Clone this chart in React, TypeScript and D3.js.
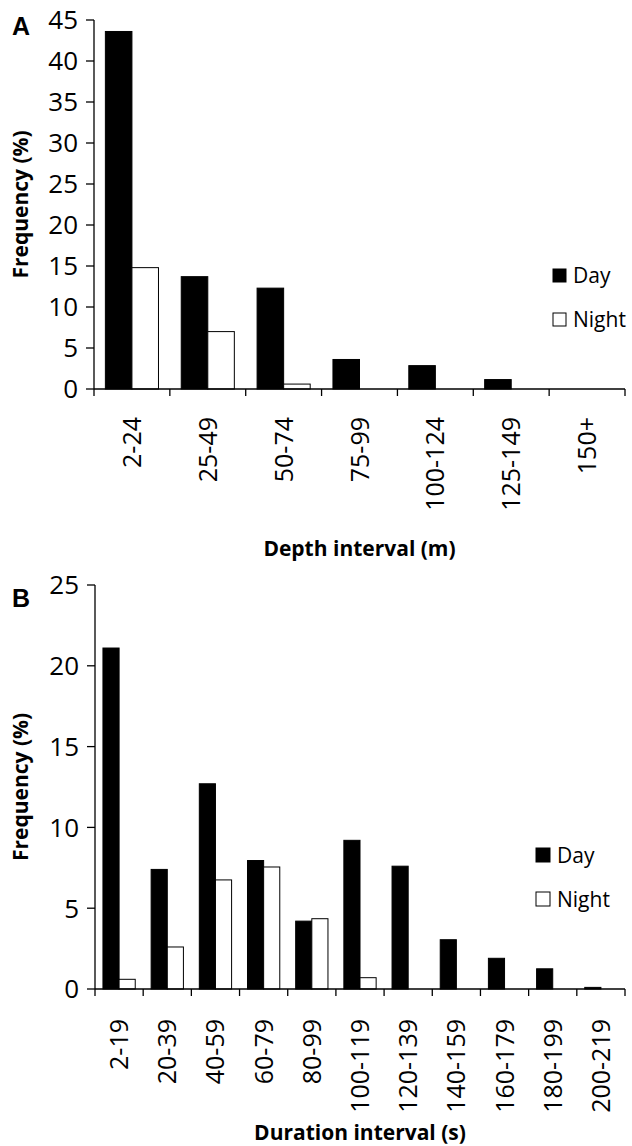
import React from "react";
import * as d3 from "d3";

const depthCats = ["2-24", "25-49", "50-74", "75-99", "100-124", "125-149", "150+"];
const depthDay = [43.6, 13.7, 12.3, 3.6, 2.85, 1.15, 0];
const depthNight = [14.8, 7.0, 0.6, 0, 0, 0, 0];
const depthTicks = [0, 5, 10, 15, 20, 25, 30, 35, 40, 45];

const durationCats = ["2-19", "20-39", "40-59", "60-79", "80-99", "100-119", "120-139", "140-159", "160-179", "180-199", "200-219"];
const durationDay = [21.1, 7.4, 12.7, 7.95, 4.2, 9.2, 7.6, 3.05, 1.9, 1.25, 0.1];
const durationNight = [0.6, 2.6, 6.75, 7.55, 4.35, 0.7, 0, 0, 0, 0, 0];
const durationTicks = [0, 5, 10, 15, 20, 25];

const seriesNames = ["Day", "Night"];

const FONT = "'Open Sans', Lato, sans-serif";

type PanelProps = {
  label: string;
  cats: string[];
  day: number[];
  night: number[];
  ticks: number[];
  yMax: number;
  x0: number;
  x1: number;
  yTop: number;
  yBottom: number;
  xTitle: string;
  xTitleY: number;
  labelY: number;
  legendX: number;
  legendY: number;
  legendGap: number;
  legendSize: number;
  pad: number;
  xLabelOffset: number;
};

function Panel(p: PanelProps) {
  const x = d3.scaleBand<string>().domain(p.cats).range([p.x0, p.x1]).paddingInner(p.pad).paddingOuter(p.pad / 2);
  const inner = d3.scaleBand<string>().domain(seriesNames).range([0, x.bandwidth()]);
  const y = d3.scaleLinear().domain([0, p.yMax]).range([p.yBottom, p.yTop]);
  const step = x.step();
  const boundaries = d3.range(p.cats.length + 1).map((i) => p.x0 + i * step);
  const midY = (p.yTop + p.yBottom) / 2;
  const midX = (p.x0 + p.x1) / 2;
  const series = [
    { name: "Day", values: p.day, fill: "#000" },
    { name: "Night", values: p.night, fill: "#fff" },
  ];
  return (
    <g>
      <text x={12} y={p.labelY} fontFamily="'Liberation Sans', Arial, sans-serif" fontWeight="bold" fontSize={25} fill="#000">
        {p.label}
      </text>
      {series.map((s) =>
        s.values.map((v, i) =>
          v > 0 ? (
            <rect
              key={s.name + i}
              x={(x(p.cats[i]) as number) + (inner(s.name) as number)}
              y={y(v)}
              width={inner.bandwidth()}
              height={y(0) - y(v)}
              fill={s.fill}
              stroke="#000"
              strokeWidth={1}
            />
          ) : null
        )
      )}
      {/* y axis */}
      <line x1={p.x0} x2={p.x0} y1={p.yTop} y2={p.yBottom} stroke="#000" strokeWidth={1.3} />
      {p.ticks.map((t) => (
        <g key={"yt" + t}>
          <line x1={p.x0 - 8} x2={p.x0} y1={y(t)} y2={y(t)} stroke="#000" strokeWidth={1.3} />
          <text x={p.x0 - 16} y={y(t)} dy="0.36em" textAnchor="end" fontFamily={FONT} fontSize={26} fill="#000">
            {t}
          </text>
        </g>
      ))}
      {/* x axis */}
      <line x1={p.x0} x2={p.x1} y1={p.yBottom} y2={p.yBottom} stroke="#000" strokeWidth={1.3} />
      {boundaries.map((bx, i) => (
        <line key={"xt" + i} x1={bx} x2={bx} y1={p.yBottom} y2={p.yBottom + 7} stroke="#000" strokeWidth={1.3} />
      ))}
      {p.cats.map((c) => {
        const cx = (x(c) as number) + x.bandwidth() / 2;
        const ty = p.yBottom + p.xLabelOffset;
        return (
          <text
            key={"xl" + c}
            transform={`translate(${cx},${ty}) rotate(-90)`}
            dy="0.36em"
            textAnchor="end"
            fontFamily={FONT}
            fontSize={25}
            fill="#000"
          >
            {c}
          </text>
        );
      })}
      <text x={midX} y={p.xTitleY} textAnchor="middle" fontFamily={FONT} fontWeight="bold" fontSize={21} fill="#000">
        {p.xTitle}
      </text>
      <text
        transform={`translate(28,${midY}) rotate(-90)`}
        textAnchor="middle"
        fontFamily={FONT}
        fontWeight="bold"
        fontSize={21}
        fill="#000"
      >
        Frequency (%)
      </text>
      {series.map((s, i) => (
        <g key={"lg" + s.name}>
          <rect
            x={p.legendX}
            y={p.legendY + i * p.legendGap}
            width={p.legendSize}
            height={p.legendSize}
            fill={s.fill}
            stroke="#000"
            strokeWidth={1}
          />
          <text
            x={p.legendX + p.legendSize + 7}
            y={p.legendY + i * p.legendGap + p.legendSize + 1}
            fontFamily={FONT}
            fontSize={21}
            fill="#000"
          >
            {s.name}
          </text>
        </g>
      ))}
    </g>
  );
}

export default function App() {
  return (
    <svg width={632} height={1146} style={{ position: "absolute", left: 0, top: 0, background: "#fff" }}>
      <rect x={0} y={0} width={632} height={1146} fill="#fff" />
      <Panel
        label="A"
        cats={depthCats}
        day={depthDay}
        night={depthNight}
        ticks={depthTicks}
        yMax={45}
        x0={94}
        x1={625}
        yTop={20}
        yBottom={389}
        xTitle="Depth interval (m)"
        xTitleY={556}
        labelY={35}
        legendX={553}
        legendY={269}
        legendGap={44}
        legendSize={13}
        pad={0.3}
        xLabelOffset={28}
      />
      <Panel
        label="B"
        cats={durationCats}
        day={durationDay}
        night={durationNight}
        ticks={durationTicks}
        yMax={25}
        x0={95}
        x1={625}
        yTop={585}
        yBottom={989}
        xTitle="Duration interval (s)"
        xTitleY={1140}
        labelY={607}
        legendX={536}
        legendY={848}
        legendGap={44}
        legendSize={14}
        pad={0.33}
        xLabelOffset={30}
      />
    </svg>
  );
}
